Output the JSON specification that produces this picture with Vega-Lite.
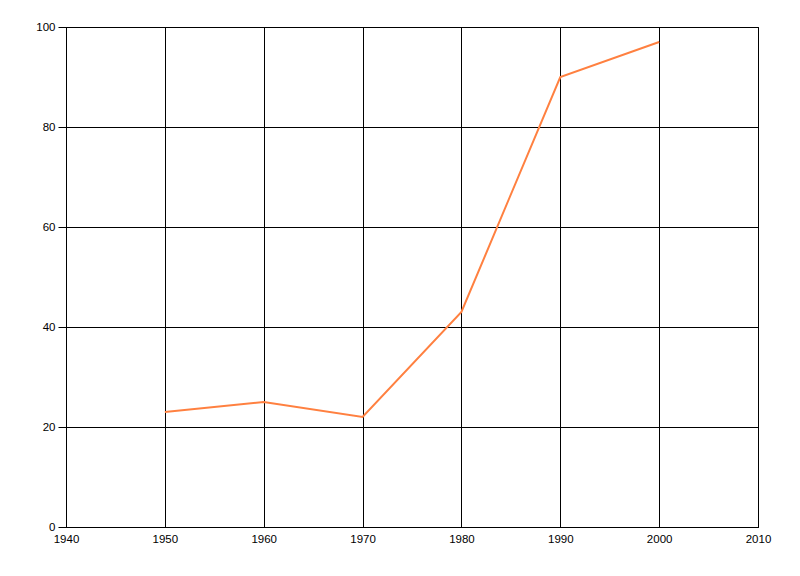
{
  "$schema": "https://vega.github.io/schema/vega-lite/v6.json",
  "width": 692,
  "height": 500,
  "autosize": {"type": "none"},
  "padding": {"left": 66, "top": 27, "right": 42, "bottom": 49},
  "background": "white",
  "config": {
    "view": {"stroke": "black", "strokeWidth": 1},
    "axis": {
      "grid": true,
      "gridColor": "black",
      "gridOpacity": 1,
      "gridWidth": 1,
      "domainColor": "black",
      "domainWidth": 1,
      "labelColor": "black",
      "labelFont": "Liberation Sans",
      "labelFontSize": 11.5,
      "labelFlush": false,
      "labelOverlap": false,
      "title": null
    }
  },
  "data": {
    "values": [
      {"year": 1950, "value": 23},
      {"year": 1960, "value": 25},
      {"year": 1970, "value": 22},
      {"year": 1980, "value": 43},
      {"year": 1990, "value": 90},
      {"year": 2000, "value": 97}
    ]
  },
  "mark": {"type": "line", "color": "#FF8040", "strokeWidth": 2},
  "encoding": {
    "x": {
      "field": "year",
      "type": "quantitative",
      "scale": {"domain": [1940, 2010], "nice": false, "zero": false},
      "axis": {
        "values": [1940, 1950, 1960, 1970, 1980, 1990, 2000, 2010],
        "format": "d",
        "ticks": false,
        "labelPadding": 6
      }
    },
    "y": {
      "field": "value",
      "type": "quantitative",
      "scale": {"domain": [0, 100], "nice": false},
      "axis": {
        "values": [0, 20, 40, 60, 80, 100],
        "tickColor": "black",
        "tickSize": 8,
        "labelPadding": 3
      }
    }
  }
}
